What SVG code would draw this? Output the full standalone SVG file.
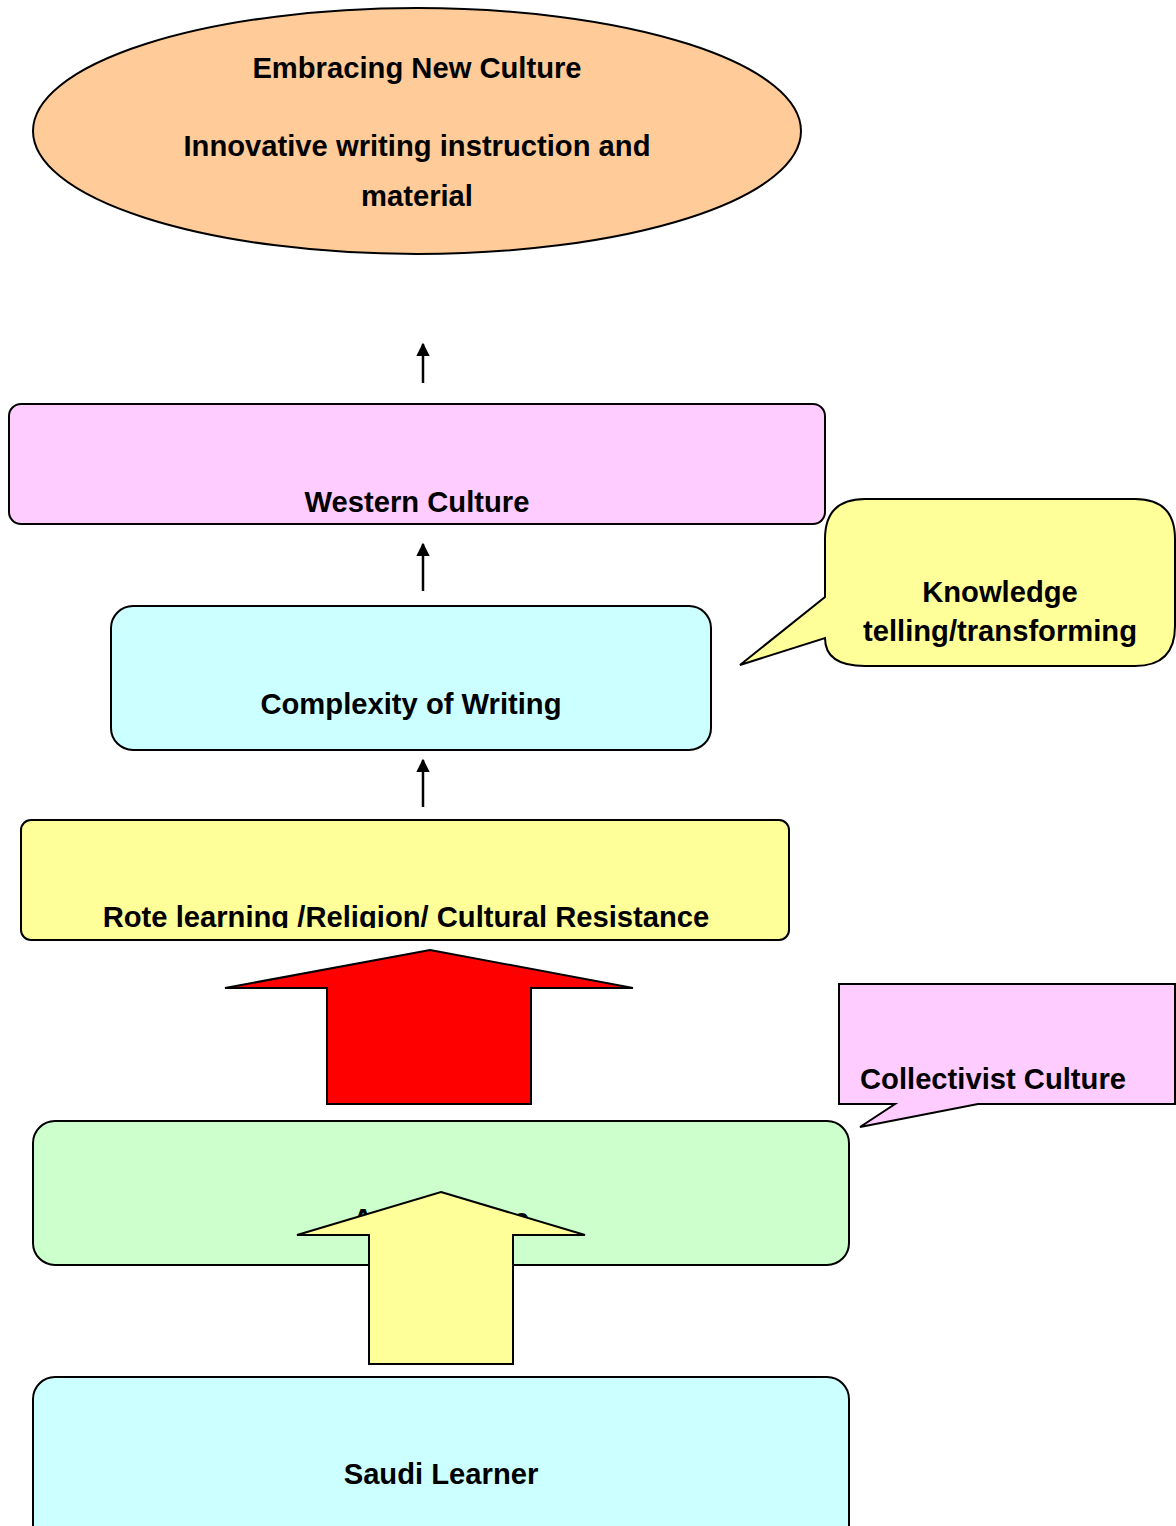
<svg xmlns="http://www.w3.org/2000/svg" width="1176" height="1526" viewBox="0 0 1176 1526">
<defs>
<style>
.t{font-family:"Liberation Sans",Arial,sans-serif;font-weight:bold;font-size:29.2px;fill:#000;text-anchor:middle}
.s{stroke:#000;stroke-width:2}
.c{stroke:#000;stroke-width:2.5;fill:none}
</style>
<marker id="ah" viewBox="0 0 10 10" refX="9" refY="5" markerWidth="5.5" markerHeight="5.5" orient="auto" markerUnits="strokeWidth">
<path d="M0,0 L10,5 L0,10 z" fill="#000"/>
</marker>
<clipPath id="cw"><rect x="9" y="404" width="816" height="109"/></clipPath>
<clipPath id="cr"><rect x="21" y="820" width="768" height="108"/></clipPath>
</defs>
<rect width="1176" height="1526" fill="#fff"/>
<g id="embracing">
<ellipse class="s" cx="417" cy="131" rx="384" ry="123" fill="#FFCC99"/>
<text class="t" x="417" y="78">Embracing New Culture</text>
<text class="t" x="417" y="156">Innovative writing instruction and</text>
<text class="t" x="417" y="206">material</text>
</g>
<g id="western">
<rect class="s" x="9" y="404" width="816" height="120" rx="12" fill="#FFCCFF"/>
<text class="t" x="417" y="512" clip-path="url(#cw)">Western Culture</text>
</g>
<g id="complexity">
<rect class="s" x="111" y="606" width="600" height="144" rx="22" fill="#CCFFFF"/>
<text class="t" x="411" y="714">Complexity of Writing</text>
</g>
<g id="knowledge">
<path class="s" d="M865,499 H1135 Q1175,499 1175,539 V626 Q1175,666 1135,666 H865 Q825,666 825,638 L740,665 L825,597 V539 Q825,499 865,499 Z" fill="#FFFF99"/>
<text class="t" x="1000" y="602">Knowledge</text>
<text class="t" x="1000" y="641">telling/transforming</text>
</g>
<g id="rote">
<rect class="s" x="21" y="820" width="768" height="120" rx="10" fill="#FFFF99"/>
<text class="t" x="406" y="927" clip-path="url(#cr)">Rote learning /Religion/ Cultural Resistance</text>
</g>
<g id="collectivist">
<path class="s" d="M839,984 H1175 V1104 H978 L860,1127 L895,1104 H839 Z" fill="#FFCCFF"/>
<text class="t" x="860" y="1089" style="text-anchor:start">Collectivist Culture</text>
</g>
<g id="arab">
<rect class="s" x="33" y="1121" width="816" height="144" rx="22" fill="#CCFFCC"/>
<text class="t" x="441" y="1229">Arab Culture</text>
</g>
<g id="saudi">
<rect class="s" x="33" y="1377" width="816" height="170" rx="22" fill="#CCFFFF"/>
<text class="t" x="441" y="1484">Saudi Learner</text>
</g>
<g id="connectors">
<line class="c" x1="423" y1="383" x2="423" y2="344" marker-end="url(#ah)"/>
<line class="c" x1="423" y1="591" x2="423" y2="544" marker-end="url(#ah)"/>
<line class="c" x1="423" y1="807" x2="423" y2="760" marker-end="url(#ah)"/>
<path class="s" d="M430,950 L633,988 H531 V1104 H327 V988 H225 Z" fill="#FF0000"/>
<path class="s" d="M441,1192 L585,1235 H513 V1364 H369 V1235 H297 Z" fill="#FFFF99"/>
</g>
</svg>
